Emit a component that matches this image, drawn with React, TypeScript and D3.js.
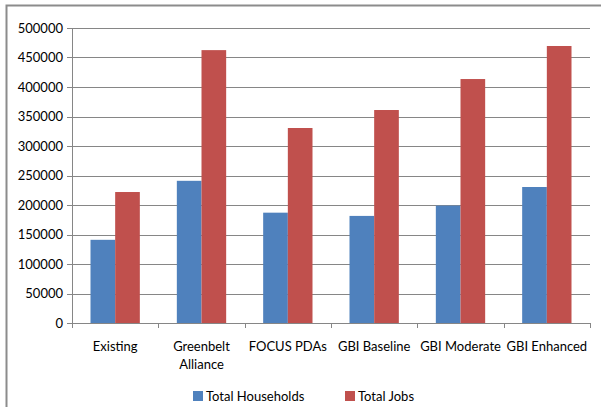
import React from "react";
import * as d3 from "d3";

const categories = ["Existing", "Greenbelt Alliance", "FOCUS PDAs", "GBI Baseline", "GBI Moderate", "GBI Enhanced"];
const households = [141000, 241000, 187000, 181500, 199000, 230500];
const jobs = [222000, 462500, 330500, 361000, 413500, 469500];
const yTicks = [0, 50000, 100000, 150000, 200000, 250000, 300000, 350000, 400000, 450000, 500000];
const seriesNames = ["Total Households", "Total Jobs"];
const colors = ["#4F81BD", "#C0504D"];

export default function App() {
  const W = 601, H = 407;
  const left = 72, right = 590, top = 28, bottom = 323;
  const x = d3.scaleBand<string>().domain(categories).range([left, right]).paddingInner(0).paddingOuter(0);
  const y = d3.scaleLinear().domain([0, 500000]).range([bottom, top]);
  const bw = x.bandwidth() / 3.5;
  const font = "Lato, 'Open Sans', sans-serif";
  const series = [households, jobs];
  return (
    <svg width={W} height={H} style={{ position: "absolute", left: 0, top: 0 }}>
      <rect x={0} y={0} width={W} height={H} fill="#fff" />
      <rect x={6.5} y={5.5} width={W + 10} height={H + 10} fill="none" stroke="#8c8c8c" strokeWidth={2} />
      {yTicks.map((t) => (
        <g key={t}>
          {t > 0 && <line x1={left} x2={right} y1={Math.round(y(t)) + 0.5} y2={Math.round(y(t)) + 0.5} stroke="#868686" strokeWidth={1} />}
          <line x1={left - 5} x2={left} y1={Math.round(y(t)) + 0.5} y2={Math.round(y(t)) + 0.5} stroke="#868686" />
          <text x={left - 9} y={y(t)} dy="0.35em" textAnchor="end" fontFamily={font} fontSize={13} fill="#000">{t}</text>
        </g>
      ))}
      {categories.map((c, i) => (
        <g key={c}>
          {series.map((s, j) => (
            <rect key={j} x={(x(c) as number) + bw * 0.75 + j * bw} y={y(s[i])} width={bw} height={bottom - y(s[i])} fill={colors[j]} />
          ))}
        </g>
      ))}
      <line x1={left + 0.5} x2={left + 0.5} y1={top} y2={bottom} stroke="#868686" />
      <line x1={left - 5} x2={right} y1={bottom + 0.5} y2={bottom + 0.5} stroke="#868686" />
      {categories.concat([""]).map((c, i) => {
        const xx = Math.round(left + i * x.step()) + 0.5;
        return <line key={i} x1={xx} x2={xx} y1={bottom} y2={bottom + 5} stroke="#868686" />;
      })}
      {categories.map((c) => {
        const cx = (x(c) as number) + x.bandwidth() / 2;
        const lines = c === "Greenbelt Alliance" ? ["Greenbelt", "Alliance"] : [c];
        return lines.map((l, k) => (
          <text key={c + k} x={cx} y={346 + k * 18} dy="0.35em" textAnchor="middle" fontFamily={font} fontSize={13} fill="#000">{l}</text>
        ));
      })}
      {seriesNames.map((n, j) => {
        const lx = j === 0 ? 193 : 345;
        return (
          <g key={n}>
            <rect x={lx} y={391} width={10} height={10} fill={colors[j]} />
            <text x={lx + 13} y={396} dy="0.35em" fontFamily={font} fontSize={13} fill="#000">{n}</text>
          </g>
        );
      })}
    </svg>
  );
}
